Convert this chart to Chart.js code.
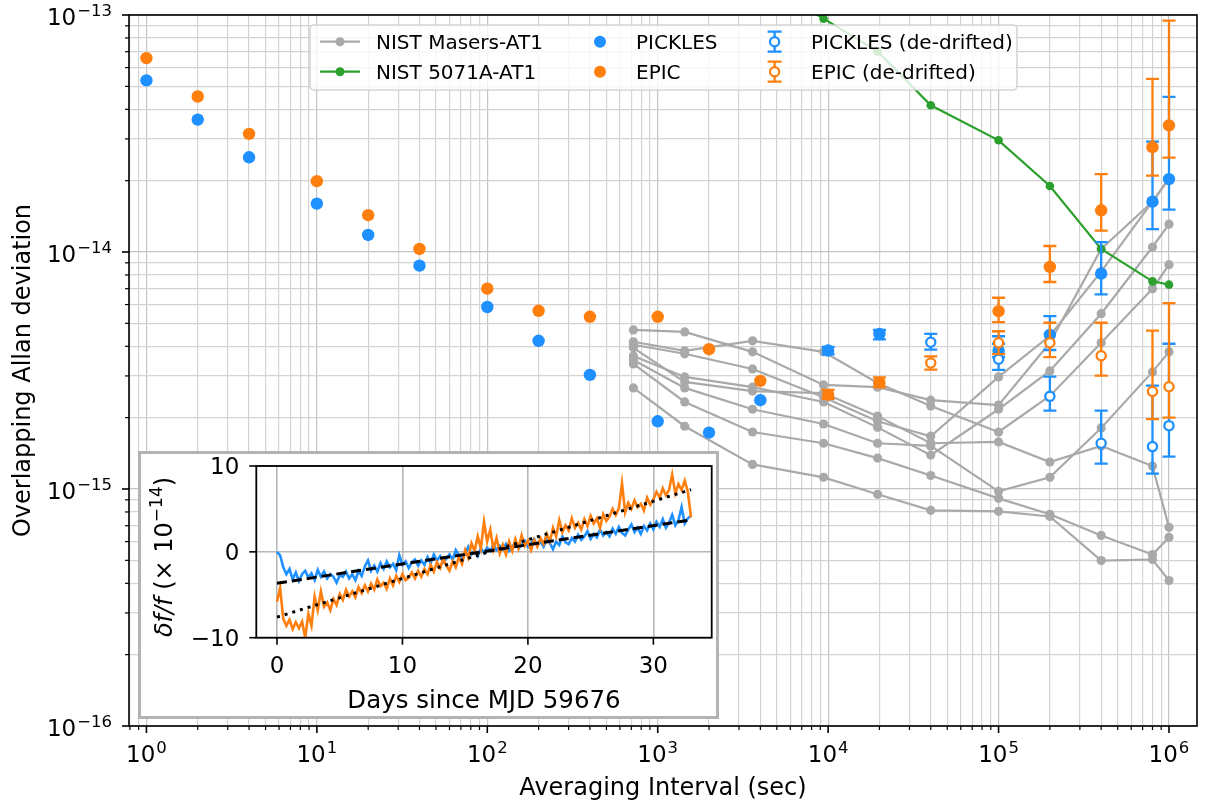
<!DOCTYPE html>
<html>
<head>
<meta charset="utf-8">
<script src="https://cdn.jsdelivr.net/npm/chart.js@4.4.0/dist/chart.umd.min.js"></script>
<style>
    html, body { margin: 0; padding: 0; background: #fff; }
    #wrap  { position: relative; width: 1205px; height: 805px; }
    #main  { position: absolute; left: 0; top: 0; }
    #inset { position: absolute; left: 138px; top: 451px; }
</style>
</head>
<body>
<div id="wrap">
    <canvas id="main" width="1205" height="805"></canvas>
    <canvas id="inset" width="581" height="268"></canvas>
</div>
<script>
// ============================================================
// Allan deviation plot + inset with fractional frequency
// ============================================================

// ── Main plot data ───────────────────────────────────────────

const tauClock = [1, 2, 4, 10, 20, 40, 100, 200, 400, 1000, 2000, 4000, 1e4, 2e4, 1e5, 2e5, 4e5, 8e5, 1e6];
const picklesAdev = [5.30e-14, 3.62e-14, 2.51e-14, 1.60e-14, 1.18e-14, 8.76e-15, 5.86e-15, 4.22e-15, 3.03e-15,
                     1.93e-15, 1.73e-15, 2.37e-15, 3.84e-15, 4.51e-15, 3.84e-15, 4.47e-15, 8.10e-15, 1.63e-14, 2.03e-14];
const picklesLo = [null, null, null, null, null, null, null, null, null, null, null, null,
                   3.70e-15, 4.28e-15, 3.60e-15, 3.86e-15, 6.62e-15, 1.25e-14, 1.51e-14];
const picklesHi = [null, null, null, null, null, null, null, null, null, null, null, null,
                   3.98e-15, 4.69e-15, 4.10e-15, 5.36e-15, 1.10e-14, 2.92e-14, 4.51e-14];
const epicAdev = [6.58e-14, 4.53e-14, 3.15e-14, 1.99e-14, 1.43e-14, 1.03e-14, 7.00e-15, 5.65e-15, 5.33e-15,
                  5.33e-15, 3.89e-15, 2.86e-15, 2.50e-15, 2.81e-15, 5.63e-15, 8.65e-15, 1.50e-14, 2.77e-14, 3.42e-14];
const epicLo = [null, null, null, null, null, null, null, null, null, null, null, null,
                2.40e-15, 2.69e-15, 5.06e-15, 7.47e-15, 1.23e-14, 2.10e-14, 2.50e-14];
const epicHi = [null, null, null, null, null, null, null, null, null, null, null, null,
                2.62e-15, 2.96e-15, 6.41e-15, 1.06e-14, 2.13e-14, 5.38e-14, 9.46e-14];

// de-drifted points (open markers)
const tauDedrift = [4e4, 1e5, 2e5, 4e5, 8e5, 1e6];
const picklesDedrift   = [4.16e-15, 3.53e-15, 2.46e-15, 1.56e-15, 1.51e-15, 1.85e-15];
const picklesDedriftLo = [3.87e-15, 3.18e-15, 2.14e-15, 1.28e-15, 1.16e-15, 1.37e-15];
const picklesDedriftHi = [4.51e-15, 4.41e-15, 2.98e-15, 2.14e-15, 2.73e-15, 4.10e-15];
const epicDedrift   = [3.40e-15, 4.14e-15, 4.14e-15, 3.65e-15, 2.58e-15, 2.70e-15];
const epicDedriftLo = [3.19e-15, 3.71e-15, 3.60e-15, 3.01e-15, 1.97e-15, 2.00e-15];
const epicDedriftHi = [3.63e-15, 4.63e-15, 5.03e-15, 5.03e-15, 4.66e-15, 6.09e-15];

// NIST masers vs AT1
const maserTau = [720, 1440, 3600, 9400, 19500, 4e4, 1e5, 2e5, 4e5, 8e5, 1e6];
const maser1 = [4.06e-15, 3.72e-15, 3.21e-15, 2.44e-15, 1.93e-15, 1.67e-15, 2.97e-15, 4.43e-15, 8.26e-15, 1.63e-14, 2.04e-14];
const maser2 = [4.69e-15, 4.60e-15, 3.79e-15, 2.75e-15, 2.69e-15, 2.37e-15, 2.26e-15, 4.14e-15, 1.03e-14, 1.63e-14, 2.04e-14];
const maser3 = [3.64e-15, 2.97e-15, 2.69e-15, 2.33e-15, 1.82e-15, 1.39e-15, 2.17e-15, 3.15e-15, 5.49e-15, 1.05e-14, 1.31e-14];
const maser4 = [4.18e-15, 3.83e-15, 4.22e-15, 3.79e-15, 2.80e-15, 2.24e-15, 1.74e-15, 2.47e-15, 4.14e-15, 7.00e-15, 8.84e-15];
const maser5 = [3.94e-15, 2.83e-15, 2.59e-15, 2.54e-15, 2.03e-15, 1.56e-15, 1.58e-15, 1.30e-15, 1.52e-15, 1.25e-15, 6.89e-16];
const maser6 = [3.50e-15, 2.67e-15, 2.17e-15, 1.88e-15, 1.56e-15, 1.52e-15, 9.78e-16, 1.12e-15, 1.81e-15, 3.12e-15, 3.79e-15];
const maser7 = [3.37e-15, 2.33e-15, 1.74e-15, 1.56e-15, 1.35e-15, 1.14e-15, 9.13e-16, 7.82e-16, 6.37e-16, 5.29e-16, 6.25e-16];
const maser8 = [2.67e-15, 1.84e-15, 1.27e-15, 1.12e-15, 9.50e-16, 8.13e-16, 8.05e-16, 7.66e-16, 4.99e-16, 5.04e-16, 4.11e-16];

// NIST 5071A vs AT1
const cesiumTau  = [3600, 9400, 19500, 4e4, 1e5, 2e5, 4e5, 8e5, 1e6];
const cesiumAdev = [1.47e-13, 9.65e-14, 7.02e-14, 4.16e-14, 2.96e-14, 1.90e-14, 1.03e-14, 7.52e-15, 7.28e-15];

const seriesNames = ['NIST Masers-AT1', 'NIST 5071A-AT1', 'PICKLES', 'EPIC', 'PICKLES (de-drifted)', 'EPIC (de-drifted)'];

// axis decades that carry a label, and minor mantissas
const xDecades = [0, 1, 2, 3, 4, 5, 6];
const yDecades = [-16, -15, -14, -13];
const mantissas = [1, 2, 3, 4, 5, 6, 7, 8, 9];

// ── Inset data (x 1e-14) ─────────────────────────────────────

const insetDays = [
    0, 0.25, 0.5, 0.75, 1, 1.25, 1.5, 1.75, 2, 2.25, 2.5, 2.75,
    3, 3.25, 3.5, 3.75, 4, 4.25, 4.5, 4.75, 5, 5.25, 5.5, 5.75,
    6, 6.25, 6.5, 6.75, 7, 7.25, 7.5, 7.75, 8, 8.25, 8.5, 8.75,
    9, 9.25, 9.5, 9.75, 10, 10.25, 10.5, 10.75, 11, 11.25, 11.5, 11.75,
    12, 12.25, 12.5, 12.75, 13, 13.25, 13.5, 13.75, 14, 14.25, 14.5, 14.75,
    15, 15.25, 15.5, 15.75, 16, 16.25, 16.5, 16.75, 17, 17.25, 17.5, 17.75,
    18, 18.25, 18.5, 18.75, 19, 19.25, 19.5, 19.75, 20, 20.25, 20.5, 20.75,
    21, 21.25, 21.5, 21.75, 22, 22.25, 22.5, 22.75, 23, 23.25, 23.5, 23.75,
    24, 24.25, 24.5, 24.75, 25, 25.25, 25.5, 25.75, 26, 26.25, 26.5, 26.75,
    27, 27.25, 27.5, 27.75, 28, 28.25, 28.5, 28.75, 29, 29.25, 29.5, 29.75,
    30, 30.25, 30.5, 30.75, 31, 31.25, 31.5, 31.75, 32, 32.25, 32.5, 32.75,
    33];
const picklesDf = [
    0, -0.4, -1.8, -2.6, -2.0, -3.2, -2.4, -3.4, -2.6, -2.2, -3.0, -2.5,
    -3.3, -2.1, -2.9, -2.3, -3.1, -2.6, -2.9, -3.6, -2.7, -2.9, -2.3, -3.1,
    -2.6, -3.3, -2.2, -2.8, -1.7, -1.0, -2.2, -1.6, -2.3, -1.3, -2.0, -1.1,
    -1.8, -1.4, -2.1, -0.4, -1.5, -1.1, -1.9, -1.2, -0.9, -1.6, -1.0, -1.5,
    -0.6, -1.3, -0.3, -1.0, -0.5, -1.2, -0.8, -0.3, -0.9, 0.2, -0.4, -0.9,
    -0.2, 0.6, -0.3, 0.2, -0.5, 0.4, -0.1, 0.5, 0.1, 0.8, 0.2, 0.7,
    0.3, 0.9, 0.1, 0.6, 1.1, 0.4, 0.8, 1.3, 0.6, 1.0, 1.5, 0.7,
    1.2, 0.6, 1.4, 1.0, 0.3, 1.2, 0.8, 1.8, 1.1, 0.9, 1.6, 1.2,
    2.0, 1.4, 1.8, 2.4, 1.5, 2.1, 1.7, 2.6, 1.9, 2.3, 1.8, 2.7,
    2.1, 2.9, 2.2, 1.9, 2.6, 3.2, 2.3, 2.8, 2.1, 3.0, 2.5, 3.3,
    2.6, 3.5, 2.9, 3.8, 2.8, 3.4, 4.3, 3.1, 3.7, 5.2, 3.3, 3.9,
    4.2];
const epicDf = [
    -5.8, -4.2, -7.8, -8.6, -7.9, -9.0, -8.2, -8.9, -8.1, -10.0, -7.2, -8.6,
    -5.2, -6.8, -4.6, -6.4, -5.9, -6.8, -5.5, -6.2, -4.9, -5.6, -4.4, -5.2,
    -4.6, -5.3, -4.1, -4.8, -3.9, -4.6, -3.7, -4.4, -3.2, -4.0, -3.6, -4.3,
    -3.1, -3.9, -2.8, -3.5, -2.6, -3.3, -3.0, -2.4, -3.1, -2.2, -2.9, -2.0,
    -2.6, -1.5, -2.3, -1.2, -1.9, -0.8, -1.6, -2.2, -1.1, -1.8, -0.6, -1.4,
    0.2, -0.7, 1.0, 0.1, 1.8, 0.4, 3.5, 1.2, 2.6, 0.3, 1.6, -0.2,
    0.8, -0.3, 1.2, 0.1, 1.5, 0.4, 1.9, 0.7, 1.3, 0.2, 1.4, 0.6,
    1.6, 0.9, 2.1, 1.2, 2.8, 1.8, 3.7, 2.3, 3.1, 2.5, 3.9, 2.8,
    3.4, 2.6, 3.8, 3.0, 4.2, 3.3, 3.9, 2.8, 4.4, 3.6, 4.1, 5.0,
    4.3, 5.1, 8.0, 4.6, 5.7, 5.0, 6.0, 5.2, 5.6, 4.8, 6.3, 5.5,
    6.1, 7.0, 6.3, 7.4, 6.6, 7.2, 9.0, 6.8, 7.9, 7.2, 8.3, 7.0,
    4.0];
const fitDays    = [0, 33];
const picklesFit = [-3.65, 3.73];
const epicFit    = [-7.6, 7.25];
const insetXTicks = [0, 10, 20, 30];
const insetYTicks = [-10, 0, 10];

// ── Styles ───────────────────────────────────────────────────

const BLUE = '#1e90ff', ORANGE = '#ff7f0e', GREEN = '#2ca02c', GRAY = '#a9a9a9';
const FONT = '"DejaVu Sans", sans-serif';

const pts = (xs, ys) => xs.map((x, i) => ({ x, y: ys[i] }));
const minus = s => String(s).replace('-', '\u2212');

function logTicks(min, max) {
    const out = [];
    for (let e = Math.floor(Math.log10(min)); e <= Math.ceil(Math.log10(max)); e++) {
        mantissas.forEach(m => {
            const v = m * Math.pow(10, e);
            if (v >= min * 0.9999 && v <= max * 1.0001) out.push({ value: v, major: m === 1 });
        });
    }
    return out;
}

// "10" with a superscript exponent, like matplotlib's mathtext
function drawPow(ctx, exp, x, yBase, align) {
    const base = '10', sup = minus(exp);
    ctx.font = `23px ${FONT}`;
    const wb = ctx.measureText(base).width;
    ctx.font = `16.5px ${FONT}`;
    const ws = ctx.measureText(sup).width;
    const total = wb + 1 + ws;
    const left = align === 'right' ? x - total : x - total / 2;
    ctx.textAlign = 'left';
    ctx.textBaseline = 'alphabetic';
    ctx.font = `23px ${FONT}`;
    ctx.fillText(base, left, yBase);
    ctx.font = `16.5px ${FONT}`;
    ctx.fillText(sup, left + wb + 1, yBase - 9.5);
}

function drawErrorBar(ctx, px, yLo, yHi, color, cap) {
    ctx.strokeStyle = color;
    ctx.lineWidth = 2.3;
    ctx.beginPath();
    ctx.moveTo(px, yLo); ctx.lineTo(px, yHi);
    ctx.moveTo(px - cap, yLo); ctx.lineTo(px + cap, yLo);
    ctx.moveTo(px - cap, yHi); ctx.lineTo(px + cap, yHi);
    ctx.stroke();
}

// ── Plugins ──────────────────────────────────────────────────

// error bars drawn just before their own points
const errorBarPlugin = {
    id: 'errorBars',
    beforeDatasetDraw(chart, args) {
        const ds = chart.data.datasets[args.index];
        if (!ds.errLo) return;
        const { ctx, chartArea: a, scales: { x, y } } = chart;
        ctx.save();
        ctx.beginPath();
        ctx.rect(a.left, a.top, a.right - a.left, a.bottom - a.top);
        ctx.clip();
        ds.data.forEach((p, i) => {
            if (ds.errLo[i] == null) return;
            drawErrorBar(ctx, x.getPixelForValue(p.x), y.getPixelForValue(ds.errLo[i]),
                         y.getPixelForValue(ds.errHi[i]), ds.errColor, 6.5);
        });
        ctx.restore();
    }
};

function drawLegend(ctx) {
    const x0 = 310, y0 = 25, w = 707, h = 65, r = 4;
    ctx.save();
    ctx.beginPath();
    ctx.moveTo(x0 + r, y0);
    ctx.arcTo(x0 + w, y0, x0 + w, y0 + h, r);
    ctx.arcTo(x0 + w, y0 + h, x0, y0 + h, r);
    ctx.arcTo(x0, y0 + h, x0, y0, r);
    ctx.arcTo(x0, y0, x0 + w, y0, r);
    ctx.closePath();
    ctx.fillStyle = 'rgba(255,255,255,0.8)';
    ctx.fill();
    ctx.strokeStyle = 'rgba(204,204,204,0.8)';
    ctx.lineWidth = 1.6;
    ctx.stroke();

    const rows = [41.7, 71.7];
    const textX = [376, 636, 811];
    // col 1: line + marker
    [GRAY, GREEN].forEach((c, i) => {
        ctx.strokeStyle = c; ctx.lineWidth = 2.2;
        ctx.beginPath(); ctx.moveTo(320, rows[i]); ctx.lineTo(360, rows[i]); ctx.stroke();
        ctx.fillStyle = c;
        ctx.beginPath(); ctx.arc(340, rows[i], 4.5, 0, Math.PI * 2); ctx.fill();
    });
    // col 2: filled markers
    [BLUE, ORANGE].forEach((c, i) => {
        ctx.fillStyle = c;
        ctx.beginPath(); ctx.arc(600, rows[i], 6, 0, Math.PI * 2); ctx.fill();
    });
    // col 3: errorbar with open marker
    [BLUE, ORANGE].forEach((c, i) => {
        drawErrorBar(ctx, 774.6, rows[i] + 10, rows[i] - 10, c, 7);
        ctx.fillStyle = '#fff'; ctx.strokeStyle = c; ctx.lineWidth = 2.2;
        ctx.beginPath(); ctx.arc(774.6, rows[i], 4.6, 0, Math.PI * 2); ctx.fill(); ctx.stroke();
    });
    ctx.fillStyle = '#000';
    ctx.font = `20px ${FONT}`;
    ctx.textAlign = 'left';
    ctx.textBaseline = 'alphabetic';
    seriesNames.forEach((name, i) => {
        ctx.fillText(name, textX[Math.floor(i / 2)], rows[i % 2] + 7.3);
    });
    ctx.restore();
}

const mainDecorPlugin = {
    id: 'mainDecor',
    afterDatasetsDraw(chart) { drawLegend(chart.ctx); },
    afterDraw(chart) {
        const { ctx, chartArea: a, scales: { x, y } } = chart;
        ctx.save();
        // frame
        ctx.strokeStyle = '#000';
        ctx.lineWidth = 1.6;
        ctx.strokeRect(a.left, a.top, a.right - a.left, a.bottom - a.top);
        // tick marks (outward)
        x.ticks.forEach(t => {
            const px = x.getPixelForValue(t.value);
            ctx.lineWidth = t.major ? 1.6 : 1.2;
            ctx.beginPath(); ctx.moveTo(px, a.bottom); ctx.lineTo(px, a.bottom + (t.major ? 7 : 4)); ctx.stroke();
        });
        y.ticks.forEach(t => {
            const py = y.getPixelForValue(t.value);
            ctx.lineWidth = t.major ? 1.6 : 1.2;
            ctx.beginPath(); ctx.moveTo(a.left, py); ctx.lineTo(a.left - (t.major ? 7 : 4), py); ctx.stroke();
        });
        // tick labels
        ctx.fillStyle = '#000';
        xDecades.forEach(e => drawPow(ctx, e, x.getPixelForValue(Math.pow(10, e)), a.bottom + 36, 'center'));
        yDecades.forEach(e => drawPow(ctx, e, a.left - 17, y.getPixelForValue(Math.pow(10, e)) + 10, 'right'));
        // axis titles
        ctx.font = `24px ${FONT}`;
        ctx.textAlign = 'center';
        ctx.textBaseline = 'alphabetic';
        ctx.fillText('Averaging Interval (sec)', (a.left + a.right) / 2, 795);
        ctx.translate(30, (a.top + a.bottom) / 2);
        ctx.rotate(-Math.PI / 2);
        ctx.fillText('Overlapping Allan deviation', 0, 0);
        ctx.restore();
    }
};

// ── Main chart ───────────────────────────────────────────────

const maserRuns = [maser1, maser2, maser3, maser4, maser5, maser6, maser7, maser8];
const mainDatasets = maserRuns.map(run => ({
    data: pts(maserTau, run),
    borderColor: GRAY, backgroundColor: GRAY, borderWidth: 2.2,
    pointRadius: 4.6, pointBorderWidth: 0, pointBackgroundColor: GRAY,
    order: 7,
}));
mainDatasets.push(
    { data: pts(cesiumTau, cesiumAdev), borderColor: GREEN, backgroundColor: GREEN, borderWidth: 2.2,
      pointRadius: 4.3, pointBorderWidth: 0, pointBackgroundColor: GREEN, order: 6 },
    { data: pts(tauClock, picklesAdev), showLine: false, pointRadius: 6.2, pointBorderWidth: 0,
      pointBackgroundColor: BLUE, borderColor: BLUE, errLo: picklesLo, errHi: picklesHi, errColor: BLUE, order: 5 },
    { data: pts(tauClock, epicAdev), showLine: false, pointRadius: 6.2, pointBorderWidth: 0,
      pointBackgroundColor: ORANGE, borderColor: ORANGE, errLo: epicLo, errHi: epicHi, errColor: ORANGE, order: 4 },
    { data: pts(tauDedrift, picklesDedrift), showLine: false, pointRadius: 4.6, pointBorderWidth: 2.3,
      pointBackgroundColor: '#fff', pointBorderColor: BLUE, borderColor: BLUE,
      errLo: picklesDedriftLo, errHi: picklesDedriftHi, errColor: BLUE, order: 3 },
    { data: pts(tauDedrift, epicDedrift), showLine: false, pointRadius: 4.6, pointBorderWidth: 2.3,
      pointBackgroundColor: '#fff', pointBorderColor: ORANGE, borderColor: ORANGE,
      errLo: epicDedriftLo, errHi: epicDedriftHi, errColor: ORANGE, order: 2 },
);

const gridColor = c => (c.tick && c.tick.major) ? '#c4c4c4' : '#d4d4d4';

new Chart(document.getElementById('main'), {
    type: 'line',
    data: { datasets: mainDatasets },
    options: {
        responsive: false, animation: false, devicePixelRatio: 1,
        layout: { padding: { left: 0, right: 8, top: 15, bottom: 0 } },
        plugins: { legend: { display: false }, tooltip: { enabled: false } },
        scales: {
            x: {
                type: 'logarithmic', min: 0.79, max: 1.46e6,
                afterBuildTicks: s => { s.ticks = logTicks(s.min, s.max); },
                afterFit: s => { s.height = 79; },
                ticks: { display: false },
                grid: { color: gridColor, lineWidth: 1.2, drawTicks: false },
                border: { display: false },
            },
            y: {
                type: 'logarithmic', min: 1e-16, max: 1e-13,
                afterBuildTicks: s => { s.ticks = logTicks(s.min, s.max); },
                afterFit: s => { s.width = 129; },
                ticks: { display: false },
                grid: { color: gridColor, lineWidth: 1.2, drawTicks: false },
                border: { display: false },
            },
        },
    },
    plugins: [errorBarPlugin, mainDecorPlugin],
});

// ── Inset chart ──────────────────────────────────────────────

const insetDecorPlugin = {
    id: 'insetDecor',
    beforeDraw(chart) {
        const { ctx, width, height } = chart;
        ctx.save();
        ctx.fillStyle = '#fff';
        ctx.fillRect(0, 0, width, height);
        ctx.strokeStyle = '#b3b3b3';
        ctx.lineWidth = 3;
        ctx.strokeRect(1.5, 1.5, width - 3, height - 3);
        ctx.restore();
    },
    afterDraw(chart) {
        const { ctx, chartArea: a, scales: { x, y } } = chart;
        ctx.save();
        ctx.strokeStyle = '#000';
        ctx.lineWidth = 1.8;
        ctx.strokeRect(a.left, a.top, a.right - a.left, a.bottom - a.top);
        ctx.fillStyle = '#000';
        ctx.font = `23px ${FONT}`;
        ctx.textBaseline = 'alphabetic';
        insetXTicks.forEach(v => {
            const px = x.getPixelForValue(v);
            ctx.lineWidth = 1.6;
            ctx.beginPath(); ctx.moveTo(px, a.bottom); ctx.lineTo(px, a.bottom + 7); ctx.stroke();
            ctx.textAlign = 'center';
            ctx.fillText(minus(v), px, a.bottom + 35.5);
        });
        insetYTicks.forEach(v => {
            const py = y.getPixelForValue(v);
            ctx.lineWidth = 1.6;
            ctx.beginPath(); ctx.moveTo(a.left, py); ctx.lineTo(a.left - 7, py); ctx.stroke();
            ctx.textAlign = 'right';
            ctx.fillText(minus(v), a.left - 17, py + 8.4);
        });
        // x label
        ctx.font = `24.5px ${FONT}`;
        ctx.textAlign = 'center';
        ctx.fillText('Days since MJD 59676', (a.left + a.right) / 2, 256.5);
        // y label: italic δf/f, then (× 10^-14)
        const parts = [
            { t: '\u03b4f/f', f: `italic 24px ${FONT}`, dy: 0 },
            { t: ' (\u00d7 10', f: `24px ${FONT}`, dy: 0 },
            { t: '\u221214', f: `17px ${FONT}`, dy: -10 },
            { t: ')', f: `24px ${FONT}`, dy: 0 },
        ];
        let total = 0;
        parts.forEach(p => { ctx.font = p.f; p.w = ctx.measureText(p.t).width; total += p.w; });
        ctx.translate(34, 106);
        ctx.rotate(-Math.PI / 2);
        ctx.textAlign = 'left';
        let cx = -total / 2;
        parts.forEach(p => { ctx.font = p.f; ctx.fillText(p.t, cx, p.dy); cx += p.w; });
        ctx.restore();
    }
};

new Chart(document.getElementById('inset'), {
    type: 'line',
    data: {
        datasets: [
            { data: pts(insetDays, picklesDf), borderColor: BLUE, borderWidth: 2.6, pointRadius: 0, order: 4 },
            { data: pts(insetDays, epicDf), borderColor: ORANGE, borderWidth: 2.6, pointRadius: 0, order: 3 },
            { data: pts(fitDays, picklesFit), borderColor: '#000', borderWidth: 3, borderDash: [10, 5],
              pointRadius: 0, order: 2 },
            { data: pts(fitDays, epicFit), borderColor: '#000', borderWidth: 3, borderDash: [3, 5],
              pointRadius: 0, order: 1 },
        ],
    },
    options: {
        responsive: false, animation: false, devicePixelRatio: 1,
        layout: { padding: { left: 0, right: 7.3, top: 15, bottom: 0 } },
        plugins: { legend: { display: false }, tooltip: { enabled: false } },
        scales: {
            x: {
                type: 'linear', min: -1.65, max: 34.65,
                afterBuildTicks: s => { s.ticks = insetXTicks.map(v => ({ value: v })); },
                afterFit: s => { s.height = 81.3; },
                ticks: { display: false },
                grid: { color: '#b8b8b8', lineWidth: 1.6, drawTicks: false },
                border: { display: false },
            },
            y: {
                type: 'linear', min: -10, max: 10,
                afterBuildTicks: s => { s.ticks = insetYTicks.map(v => ({ value: v })); },
                afterFit: s => { s.width = 118.3; },
                ticks: { display: false },
                grid: { color: '#b8b8b8', lineWidth: 1.6, drawTicks: false },
                border: { display: false },
            },
        },
    },
    plugins: [insetDecorPlugin],
});
</script>
</body>
</html>
